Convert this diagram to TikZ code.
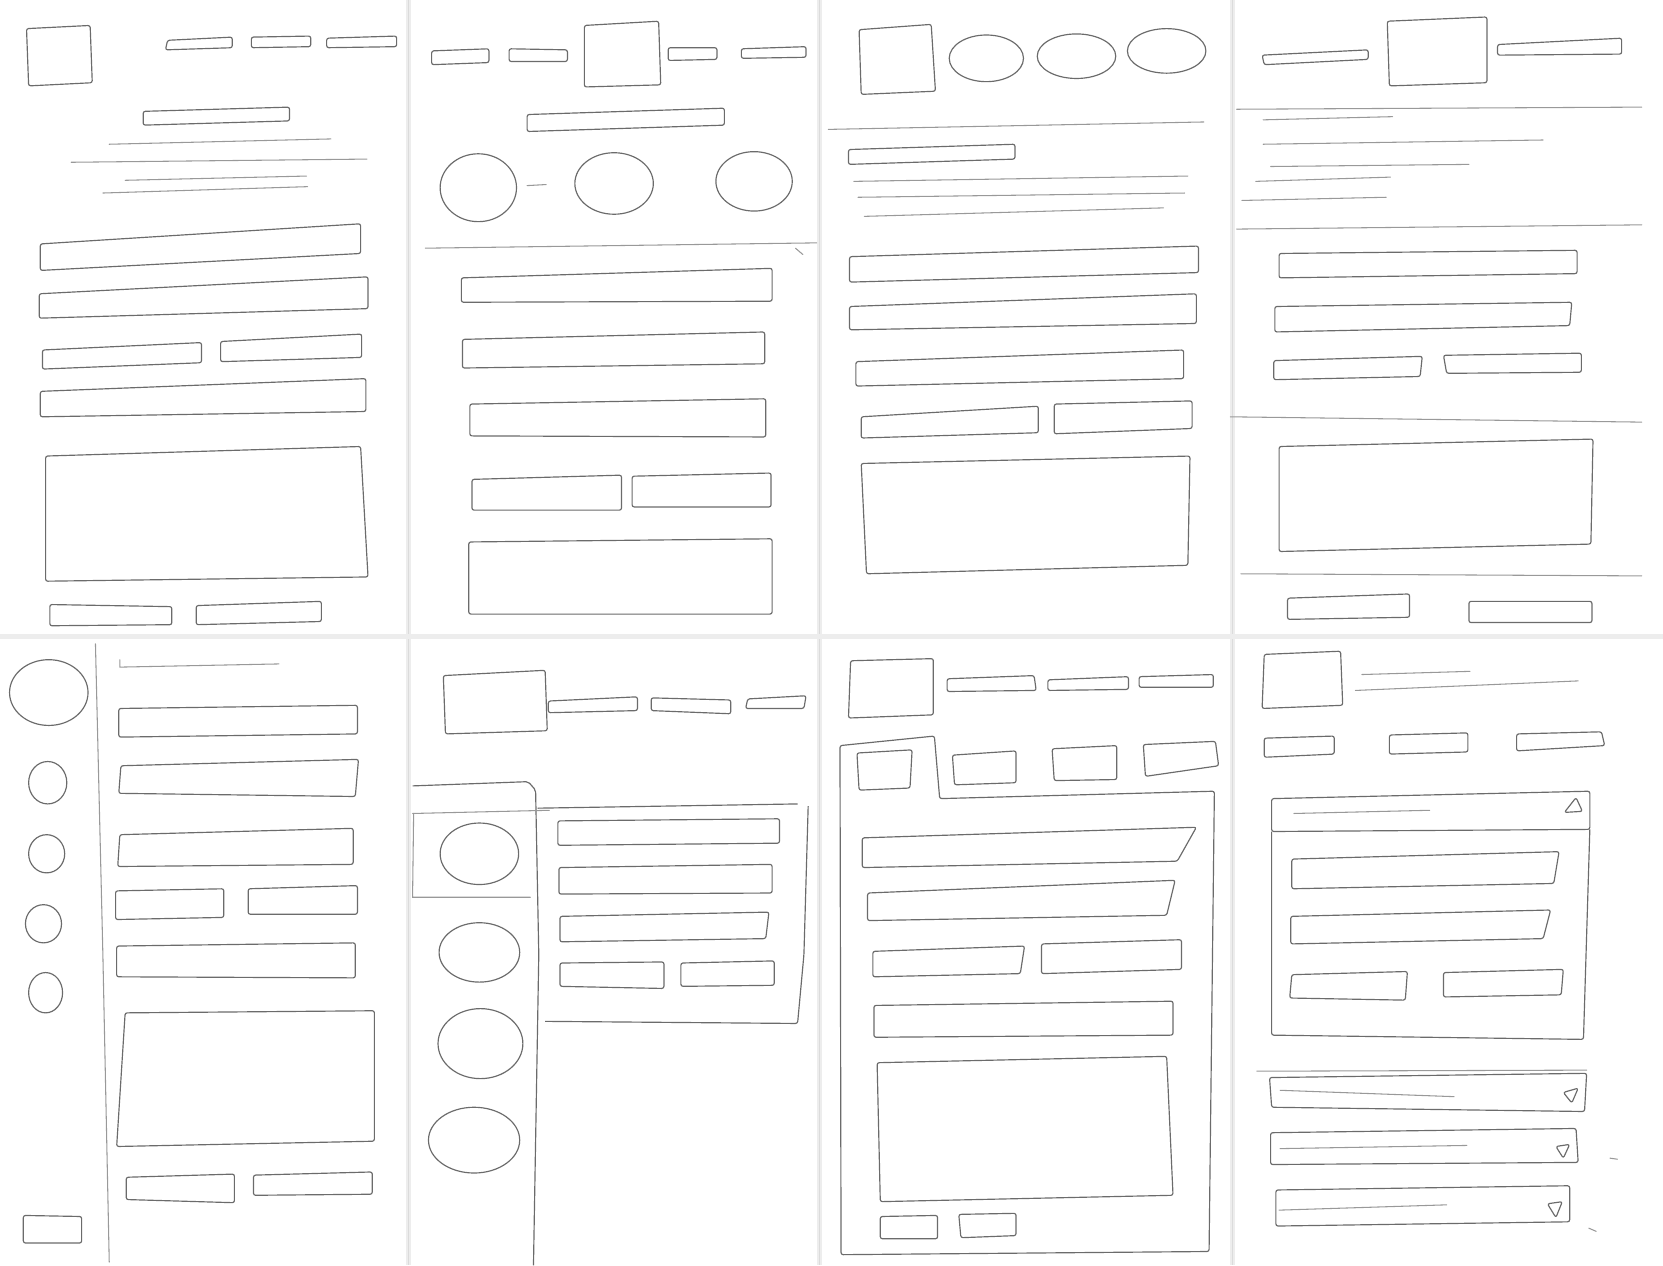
\documentclass[tikz,border=0pt]{standalone}
\begin{document}
\begin{tikzpicture}[x=1pt,y=-1pt,
  sk/.style={draw=black!58,line width=1.1pt,rounded corners=2pt,line join=round},
  ln/.style={draw=black!40,line width=1pt,line cap=round},
  fold/.style={draw=black!7,line width=5pt},
  foldc/.style={draw=black!14,line width=1pt}]
\newcommand\q[8]{\draw[sk] (#1,#2)--(#3,#4)--(#5,#6)--(#7,#8)--cycle;}
\newcommand\el[4]{\draw[sk] (#1,#2) ellipse [x radius=#3,y radius=#4];}
\useasboundingbox (0,0) rectangle (1568,1193);
\fill[white] (0,0) rectangle (1568,1193);
% paper folds
\foreach \x in {385,773,1162}{\draw[fold] (\x,0)--(\x,1193);\draw[foldc] (\x,0)--(\x,1193);}
\draw[fold] (0,600)--(1568,600);
% ---------------- Panel 1
\q{25}{27}{85}{24}{87}{78}{27}{81}
\q{158}{38}{219}{35}{219}{45}{156}{47}
\q{237}{35}{293}{34}{293}{44}{237}{45}
\q{308}{36}{374}{34}{374}{44}{308}{45}
\q{135}{105}{273}{101}{273}{114}{135}{118}
\draw[ln] (103,136)--(312,131);
\draw[ln] (67,153)--(346,150);
\draw[ln] (118,170)--(289,166);
\draw[ln] (97,182)--(290,176);
\q{38}{230}{340}{211}{340}{239}{38}{255}
\q{37}{277}{347}{261}{347}{291}{37}{300}
\q{40}{330}{190}{323}{190}{342}{40}{348}
\q{208}{322}{341}{315}{341}{337}{208}{341}
\q{38}{369}{345}{357}{345}{388}{38}{393}
\q{43}{430}{340}{421}{347}{544}{43}{548}
\q{47}{570}{162}{572}{162}{589}{47}{590}
\q{185}{571}{303}{567}{303}{586}{185}{589}
% ---------------- Panel 2
\q{407}{48}{461}{46}{461}{59}{407}{61}
\q{480}{46}{535}{47}{535}{58}{480}{58}
\q{551}{24}{621}{20}{623}{80}{551}{82}
\q{630}{45}{676}{45}{676}{56}{630}{57}
\q{699}{46}{760}{44}{760}{54}{699}{55}
\q{497}{108}{683}{102}{683}{118}{497}{124}
\el{451}{177}{36}{32}
\el{579}{173}{37}{29}
\el{711}{171}{36}{28}
\draw[ln] (497,175)--(515,174);
\draw[ln] (401,234)--(770,229);
\draw[ln] (750,234)--(757,240);
\q{435}{262}{728}{253}{728}{284}{435}{285}
\q{436}{320}{721}{313}{721}{343}{436}{347}
\q{443}{381}{722}{376}{722}{412}{443}{411}
\q{445}{452}{586}{448}{586}{481}{445}{481}
\q{596}{449}{727}{446}{727}{478}{596}{478}
\q{442}{511}{728}{508}{728}{579}{442}{579}
% ---------------- Panel 3
\q{810}{28}{878}{23}{882}{86}{812}{89}
\el{930}{55}{35}{22}
\el{1015}{53}{37}{21}
\el{1100}{48}{37}{21}
\draw[ln] (781,122)--(1135,115);
\q{800}{141}{957}{136}{957}{150}{800}{155}
\draw[ln] (805,171)--(1120,166);
\draw[ln] (809,186)--(1117,182);
\draw[ln] (815,204)--(1097,196);
\q{801}{242}{1130}{232}{1130}{257}{801}{266}
\q{801}{289}{1128}{277}{1128}{305}{801}{311}
\q{807}{341}{1116}{330}{1116}{357}{807}{364}
\q{812}{393}{979}{383}{979}{408}{812}{413}
\q{994}{381}{1124}{378}{1124}{404}{994}{409}
\q{812}{437}{1122}{430}{1120}{533}{817}{541}
% ---------------- Panel 4
\q{1190}{52}{1290}{47}{1290}{56}{1192}{61}
\q{1308}{20}{1402}{16}{1402}{78}{1310}{81}
\q{1412}{42}{1529}{36}{1529}{51}{1412}{52}
\draw[ln] (1166,103)--(1548,101);
\draw[ln] (1191,113)--(1313,110);
\draw[ln] (1191,136)--(1455,132);
\draw[ln] (1198,157)--(1385,155);
\draw[ln] (1184,171)--(1311,167);
\draw[ln] (1171,189)--(1307,186);
\draw[ln] (1166,216)--(1548,212);
\q{1206}{239}{1487}{236}{1487}{258}{1206}{262}
\q{1202}{289}{1482}{285}{1480}{307}{1202}{313}
\q{1201}{340}{1341}{336}{1339}{355}{1201}{358}
\q{1361}{335}{1491}{333}{1491}{351}{1364}{352}
\draw[ln] (1160,393)--(1548,398);
\q{1206}{421}{1502}{414}{1500}{513}{1206}{520}
\draw[ln] (1170,541)--(1548,543);
\q{1214}{564}{1329}{560}{1329}{582}{1214}{584}
\q{1385}{567}{1501}{567}{1501}{587}{1385}{587}
% ---------------- Panel 5
\el{46}{653}{37}{31}
\draw[ln] (90,607)--(97,900)--(103,1190);
\el{45}{738}{18}{20}
\el{44}{805}{17}{18}
\el{41}{871}{17}{18}
\el{43}{936}{16}{19}
\draw[ln] (113,622)--(113,629)--(263,626);
\q{112}{668}{337}{665}{337}{692}{112}{695}
\q{114}{722}{338}{716}{335}{751}{112}{748}
\q{113}{787}{333}{781}{333}{815}{111}{817}
\q{109}{840}{211}{838}{211}{865}{109}{867}
\q{234}{838}{337}{835}{337}{862}{234}{862}
\q{110}{892}{335}{889}{335}{922}{110}{921}
\q{118}{955}{353}{953}{353}{1076}{110}{1081}
\q{119}{1110}{221}{1107}{221}{1134}{119}{1131}
\q{239}{1108}{351}{1105}{351}{1126}{239}{1127}
\q{22}{1146}{77}{1147}{77}{1172}{22}{1172}
% ---------------- Panel 6
\q{418}{637}{514}{632}{516}{689}{420}{692}
\q{517}{661}{601}{657}{601}{670}{517}{672}
\q{614}{658}{689}{660}{689}{673}{614}{670}
\q{705}{659}{760}{656}{758}{668}{703}{668}
\draw[sk] (389,741)--(498,737)--(505,745)--(508,900)--(503,1193);
\draw[ln] (389,767)--(518,764);
\draw[ln] (390,767)--(389,846)--(500,846);
\draw[sk] (507,762)--(752,758);
\draw[sk] (762,760)--(758,900)--(752,965)--(514,963);
\q{526}{774}{735}{772}{735}{795}{526}{797}
\q{527}{818}{728}{815}{728}{842}{527}{843}
\q{528}{864}{725}{860}{722}{885}{528}{888}
\q{528}{908}{626}{907}{626}{932}{528}{930}
\q{642}{908}{730}{906}{730}{929}{642}{930}
\el{452}{805}{37}{29}
\el{452}{898}{38}{28}
\el{453}{984}{40}{33}
\el{447}{1075}{43}{31}
% ---------------- Panel 7
\q{802}{623}{880}{621}{880}{674}{800}{677}
\q{893}{640}{975}{637}{977}{651}{893}{652}
\q{988}{641}{1064}{638}{1064}{650}{988}{651}
\q{1074}{638}{1144}{636}{1144}{648}{1074}{648}
\draw[sk] (886,753)--(881,694)--(792,703)--(793,1183)--(1140,1180)--(1145,746)--cycle;
\q{808}{710}{860}{707}{858}{743}{810}{745}
\q{898}{712}{958}{708}{958}{738}{900}{740}
\q{992}{706}{1053}{703}{1053}{735}{994}{736}
\q{1078}{702}{1146}{699}{1149}{722}{1080}{732}
\q{813}{790}{1128}{780}{1110}{812}{813}{818}
\q{818}{842}{1108}{830}{1100}{863}{818}{868}
\q{823}{897}{966}{892}{962}{918}{823}{921}
\q{982}{890}{1114}{886}{1114}{914}{982}{918}
\q{824}{948}{1106}{944}{1106}{976}{824}{978}
\q{827}{1002}{1100}{996}{1106}{1127}{830}{1133}
\q{830}{1147}{884}{1146}{884}{1168}{830}{1168}
\q{904}{1145}{958}{1144}{958}{1165}{906}{1167}
% ---------------- Panel 8
\q{1192}{617}{1264}{614}{1266}{665}{1190}{668}
\draw[ln] (1284,636)--(1386,633);
\draw[ln] (1278,651)--(1488,642);
\q{1192}{696}{1258}{694}{1258}{711}{1192}{714}
\q{1310}{693}{1384}{691}{1384}{709}{1310}{711}
\q{1430}{692}{1510}{690}{1513}{703}{1430}{708}
\q{1199}{753}{1499}{746}{1499}{782}{1199}{784}
\draw[sk] (1486,752)--(1492,765)--(1475,766)--cycle;
\draw[ln] (1220,767)--(1348,764);
\draw[sk] (1199,784)--(1199,976)--(1493,980)--(1499,782);
\q{1218}{810}{1470}{803}{1465}{833}{1218}{838}
\q{1217}{864}{1462}{858}{1455}{885}{1217}{890}
\q{1218}{919}{1327}{916}{1325}{943}{1216}{941}
\q{1361}{917}{1474}{914}{1472}{938}{1361}{940}
\draw[ln] (1185,1010)--(1496,1009);
\q{1197}{1016}{1496}{1012}{1494}{1048}{1199}{1044}
\draw[ln] (1207,1028)--(1371,1034);
\draw[sk] (1474,1030)--(1488,1026)--(1482,1040)--cycle;
\q{1198}{1068}{1486}{1064}{1488}{1096}{1198}{1098}
\draw[ln] (1207,1083)--(1383,1080);
\draw[sk] (1467,1081)--(1480,1079)--(1474,1092)--cycle;
\q{1203}{1122}{1480}{1118}{1480}{1152}{1203}{1156}
\draw[ln] (1206,1141)--(1364,1136);
\draw[sk] (1459,1135)--(1473,1133)--(1467,1148)--cycle;
\draw[ln] (1518,1092)--(1525,1093);
\draw[ln] (1498,1158)--(1505,1161);
\end{tikzpicture}
\end{document}
